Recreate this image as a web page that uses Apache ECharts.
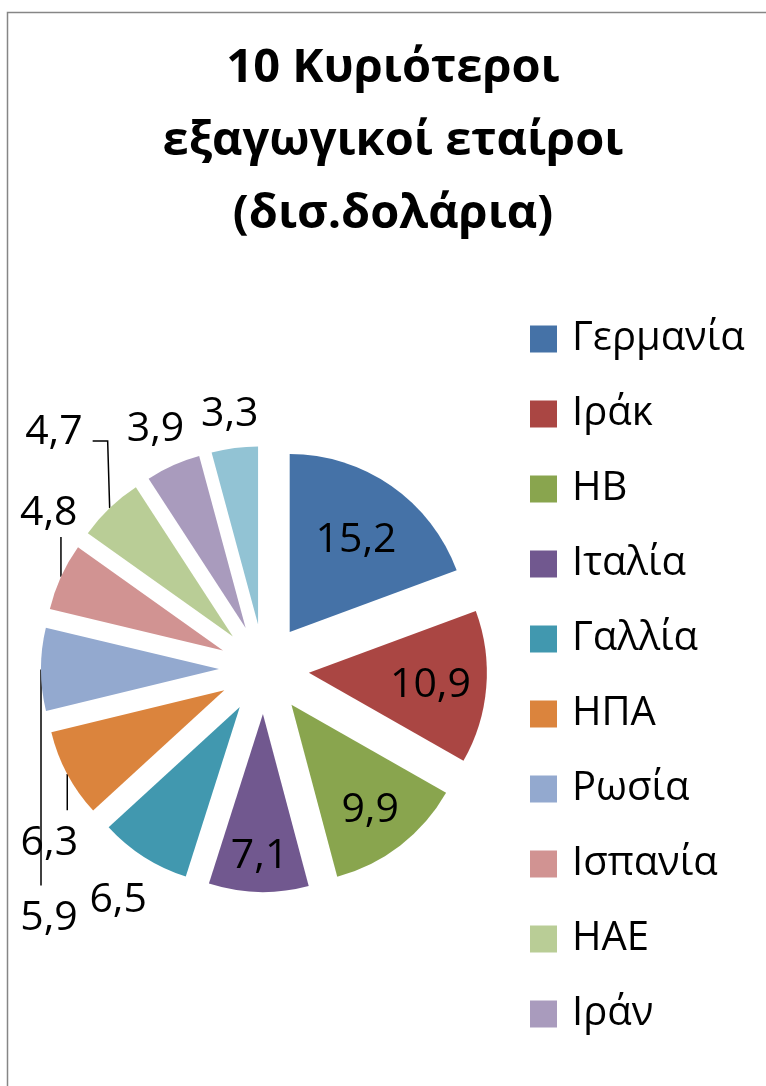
<!DOCTYPE html>
<html>
<head>
<meta charset="utf-8">
<script src="https://cdn.jsdelivr.net/npm/echarts@6/dist/echarts.min.js"></script>
<style>html,body{margin:0;padding:0;background:#fff}#c{width:766px;height:1086px}</style>
</head>
<body>
<div id="c"></div>
<script>
const titleText = '10 Κυριότεροι\nεξαγωγικοί εταίροι\n(δισ.δολάρια)';
const countries = ['Γερμανία','Ιράκ','ΗΒ','Ιταλία','Γαλλία','ΗΠΑ','Ρωσία','Ισπανία','ΗΑΕ','Ιράν','Άλλη'];
const values = [15.2, 10.9, 9.9, 7.1, 6.5, 6.3, 5.9, 4.8, 4.7, 3.9, 3.3];
const colors = ['#4572A7','#AA4643','#89A54E','#71588F','#4198AF','#DB843D','#93A9CF','#D19392','#B9CD96','#A99BBD','#92C3D4'];
const legendNames = countries.slice(0, 10);

// layout constants (not data)
const PIE_CENTER = [264, 669];
const PIE_R = 178;
const EXPLODE = 45;
const LABEL_BASELINE_SHIFT = 3;
// distance of each label centre from its slice apex
const labelDist = [116, 122, 129, 139, 226, 221, 221, 221, 221, 221, 215];
// manual nudges for crowded labels that use a leader line
const labelNudge = {5: [20, 46], 6: [51, 246], 7: [27, -49], 8: [-26, -48]};

const total = values.reduce((a, b) => a + b, 0);
const midAngles = [];
let acc = 0;
values.forEach(v => { midAngles.push((acc + v / 2) / total * 2 * Math.PI); acc += v; });
function dirOf(i) { return [Math.sin(midAngles[i]), -Math.cos(midAngles[i])]; }
function apexOf(i) { const d = dirOf(i); return [PIE_CENTER[0] + EXPLODE * d[0], PIE_CENTER[1] + EXPLODE * d[1]]; }

const FONT = '"Open Sans", "Noto Sans", sans-serif';
const chart = echarts.init(document.getElementById('c'), null, {renderer: 'canvas'});
chart.setOption({
  animation: false,
  color: colors,
  graphic: [{
    type: 'rect', shape: {x: 7.5, y: 12.5, width: 900, height: 1200},
    style: {fill: 'none', stroke: '#868686', lineWidth: 1.5}, silent: true, z: -1
  }],
  title: {
    text: titleText, left: 393, top: 32, textAlign: 'center', padding: 0,
    textStyle: {fontFamily: FONT, fontWeight: 'bold', fontSize: 47, lineHeight: 73, color: '#000'}
  },
  legend: {
    orient: 'vertical', left: 530, top: 319, padding: 0,
    data: legendNames.map((n, i) => ({name: n, itemStyle: {color: colors[i]}})),
    icon: 'rect', itemWidth: 27, itemHeight: 27, itemGap: 35,
    textStyle: {fontFamily: FONT, fontSize: 40, color: '#000', padding: [0, 0, 0, 10]}
  },
  series: [{
    // exploded slices
    type: 'pie', center: PIE_CENTER, radius: PIE_R, startAngle: 90, clockwise: true,
    selectedMode: 'multiple', selectedOffset: EXPLODE,
    itemStyle: {borderWidth: 0},
    label: {show: false}, labelLine: {show: false},
    emphasis: {disabled: true},
    data: countries.map((n, i) => ({name: n, value: values[i], selected: true}))
  }, {
    // value labels only (transparent slices)
    type: 'pie', center: PIE_CENTER, radius: PIE_R, startAngle: 90, clockwise: true,
    silent: true, selectedMode: false, avoidLabelOverlap: false,
    itemStyle: {color: 'rgba(0,0,0,0)', borderWidth: 0},
    label: {show: true, position: 'outside', fontFamily: FONT, fontSize: 41, color: '#000',
            formatter: p => String(p.value).replace('.', ',')},
    labelLine: {show: true, length: 10, length2: 10, lineStyle: {color: '#000', width: 1.5}},
    emphasis: {disabled: true},
    data: countries.map((n, i) => ({
      name: n, value: values[i],
      labelLine: {show: !!labelNudge[i]}
    })),
    labelLayout: function (p) {
      const i = p.dataIndex;
      const a = apexOf(i), d = dirOf(i);
      let x = a[0] + labelDist[i] * d[0];
      let y = a[1] + labelDist[i] * d[1];
      const out = {align: 'center', verticalAlign: 'middle'};
      if (labelNudge[i]) {
        x += labelNudge[i][0]; y += labelNudge[i][1];
        const arc = [a[0] + PIE_R * d[0], a[1] + PIE_R * d[1]];
        const hw = p.labelRect.width / 2;
        if (arc[0] > x - hw && arc[0] < x + hw) {
          const endY = arc[1] < y ? y - 30 : y + 27;
          out.labelLinePoints = [arc, [arc[0], endY], [arc[0], endY]];
        } else {
          const ly = y + 12;
          out.labelLinePoints = [arc, [arc[0] - 2, ly], [x + hw + 10, ly]];
        }
      }
      out.x = x; out.y = y + LABEL_BASELINE_SHIFT;
      return out;
    }
  }]
});
</script>
</body>
</html>
